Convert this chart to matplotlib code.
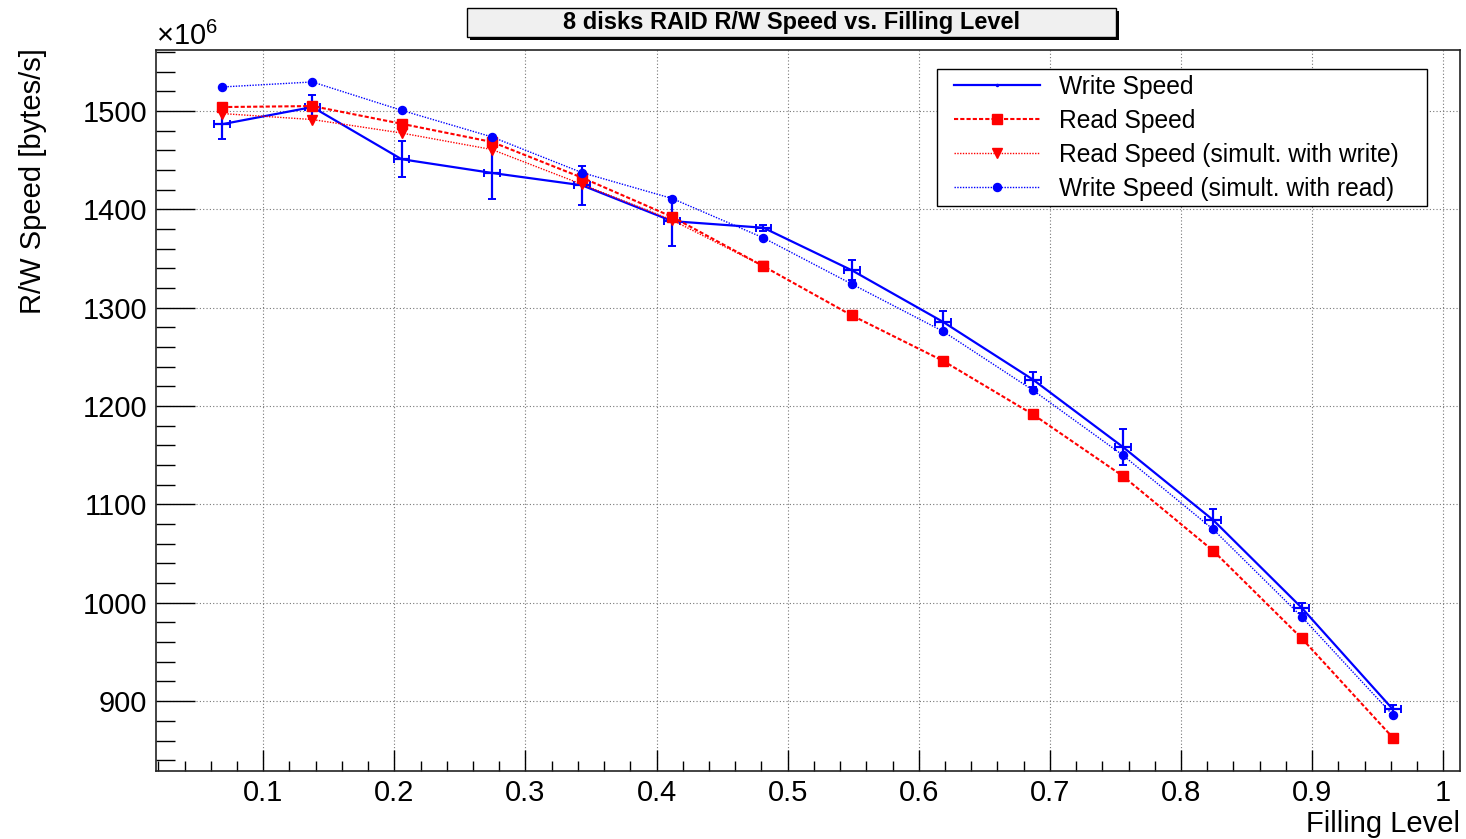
import numpy as np
import matplotlib
matplotlib.use('Agg')
import matplotlib.pyplot as plt
from matplotlib.lines import Line2D
from matplotlib.patches import Rectangle
from matplotlib.ticker import MultipleLocator, FormatStrFormatter

plt.rcParams['font.family'] = ['Liberation Sans', 'DejaVu Sans']
plt.rcParams['mathtext.fontset'] = 'custom'
plt.rcParams['mathtext.rm'] = 'Liberation Sans'
plt.rcParams['mathtext.it'] = 'Liberation Sans:italic'

# filling level
fill = [0.0685, 0.1375, 0.2055, 0.2745, 0.343, 0.412, 0.4815,
        0.549, 0.6185, 0.687, 0.7555, 0.8245, 0.892, 0.9615]

# speeds in units of 1e6 bytes/s
write_speed = [1486.5, 1504, 1451, 1437, 1424.5, 1388, 1381.3,
               1338, 1285.6, 1227, 1158.6, 1084.2, 995, 891.8]
write_err = [15, 12, 18, 26, 20, 25, 3, 10, 11, 8, 18, 11, 5, 4.5]
write_xerr = [0.006, 0.006, 0.006, 0.006, 0.006, 0.006, 0.006,
              0.006, 0.006, 0.006, 0.006, 0.006, 0.006, 0.006]

read_speed = [1504, 1505, 1487, 1468.5, 1432.3, 1392.3, 1342.2,
              1292.1, 1246, 1191.6, 1129, 1053, 964, 863]

read_sim_x = [0.0685, 0.1375, 0.2055, 0.2745, 0.343, 0.412, 0.4815]
read_sim = [1497.4, 1491.3, 1477.6, 1460.8, 1425.5, 1389, 1342.2]

write_sim = [1524.4, 1529.5, 1500.7, 1473.6, 1437.4, 1411, 1371,
             1324, 1276, 1216.2, 1150.2, 1074.7, 985.9, 886]

labels = ['Write Speed', 'Read Speed', 'Read Speed (simult. with write)',
          'Write Speed (simult. with read)']

W, H = 1466, 839
BLUE = '#0000ff'
RED = '#ff0000'

fig = plt.figure(figsize=(W / 100, H / 100), dpi=100)
ax = fig.add_axes([155.7 / W, 1 - 771 / H, (1460 - 155.7) / W, (771 - 50) / H])

ax.errorbar(fill, write_speed, yerr=write_err, xerr=write_xerr, color=BLUE,
            lw=1.6, elinewidth=1.6, capsize=3, capthick=1.4, marker='None', zorder=3)
ax.plot(fill, read_speed, color=RED, lw=1.5, ls=(0, (2, 1)),
        marker='s', ms=6.5, mec=RED, mfc=RED, zorder=4)
ax.plot(read_sim_x, read_sim, color=RED, lw=1.0, ls=(0, (1, 1)),
        marker='v', ms=6.5, mec=RED, mfc=RED, zorder=5)
ax.plot(fill, write_sim, color=BLUE, lw=1.0, ls=(0, (1, 1)),
        marker='o', ms=5.8, mec=BLUE, mfc=BLUE, zorder=6)

ax.set_xlim(0.018, 1.0128)
ax.set_ylim(829, 1562)

ax.xaxis.set_major_locator(MultipleLocator(0.1))
ax.xaxis.set_minor_locator(MultipleLocator(0.02))
ax.yaxis.set_major_locator(MultipleLocator(100))
ax.yaxis.set_minor_locator(MultipleLocator(20))
ax.xaxis.set_major_formatter(FormatStrFormatter('%g'))
ax.yaxis.set_major_formatter(FormatStrFormatter('%g'))

ax.tick_params(axis='both', which='both', direction='in', width=1, color='black',
               labelsize=21, top=False, right=False)
ax.tick_params(axis='y', which='major', length=28, pad=6)
ax.tick_params(axis='y', which='minor', length=13.7)
ax.tick_params(axis='x', which='major', length=15, pad=6)
ax.tick_params(axis='x', which='minor', length=7.5)

ax.grid(True, which='major', color='#777777', lw=0.8, ls=(0, (1, 2)))
ax.set_axisbelow(True)
for s in ax.spines.values():
    s.set_linewidth(1.2)
    s.set_color('#222222')

ax.set_xlabel('Filling Level', fontsize=21, loc='right')
ax.xaxis.set_label_coords(1.0, -0.054)
ax.set_ylabel('R/W Speed [bytes/s]', fontsize=21, loc='top')
ax.yaxis.set_label_coords(-0.083, 1.003)

ax.text(0.0, 0.999, r'$\times10^{6}$', transform=ax.transAxes, fontsize=21,
        ha='left', va='bottom')

# legend box drawn by hand (ROOT style)
lx0, lx1, ly0, ly1 = 937, 1427, 69, 206
row_y = [85, 119, 153, 187]
styles = [
    dict(color=BLUE, lw=1.6, ls='-', marker='.', ms=3),
    dict(color=RED, lw=1.5, ls=(0, (2, 1)), marker='s', ms=6.5),
    dict(color=RED, lw=1.0, ls=(0, (1, 1)), marker='v', ms=6.5),
    dict(color=BLUE, lw=1.0, ls=(0, (1, 1)), marker='o', ms=5.8),
]
fig.add_artist(Rectangle((lx0 / W, 1 - ly1 / H), (lx1 - lx0) / W, (ly1 - ly0) / H,
                         transform=fig.transFigure, facecolor='white', edgecolor='black',
                         lw=1.0, zorder=10))
for yy, st, lab in zip(row_y, styles, labels):
    fig.add_artist(Line2D([954 / W, 1040 / W], [1 - yy / H, 1 - yy / H],
                          transform=fig.transFigure, zorder=11,
                          color=st['color'], lw=st['lw'], ls=st['ls']))
    fig.add_artist(Line2D([997 / W], [1 - yy / H], transform=fig.transFigure, ls='None',
                          color=st['color'], marker=st['marker'], ms=st['ms'], zorder=12))
    fig.text(1059 / W, 1 - (yy + 2) / H, lab, fontsize=17.7, ha='left', va='center', zorder=12)

# title box with drop shadow
bx0, bx1, by0, by1 = 467, 1116, 8, 37
fig.add_artist(Rectangle(((bx0 + 3) / W, 1 - (by1 + 3) / H), (bx1 - bx0) / W, (by1 - by0) / H,
                         transform=fig.transFigure, facecolor='black', edgecolor='none'))
fig.add_artist(Rectangle((bx0 / W, 1 - by1 / H), (bx1 - bx0) / W, (by1 - by0) / H,
                         transform=fig.transFigure, facecolor='#f0f0f0', edgecolor='black', lw=1))
fig.text((bx0 + bx1) / 2 / W, 1 - (by0 + by1) / 2 / H, '8 disks RAID R/W Speed vs. Filling Level',
         fontsize=17, fontweight='bold', ha='center', va='center')

fig.savefig('out.png', dpi=100)
